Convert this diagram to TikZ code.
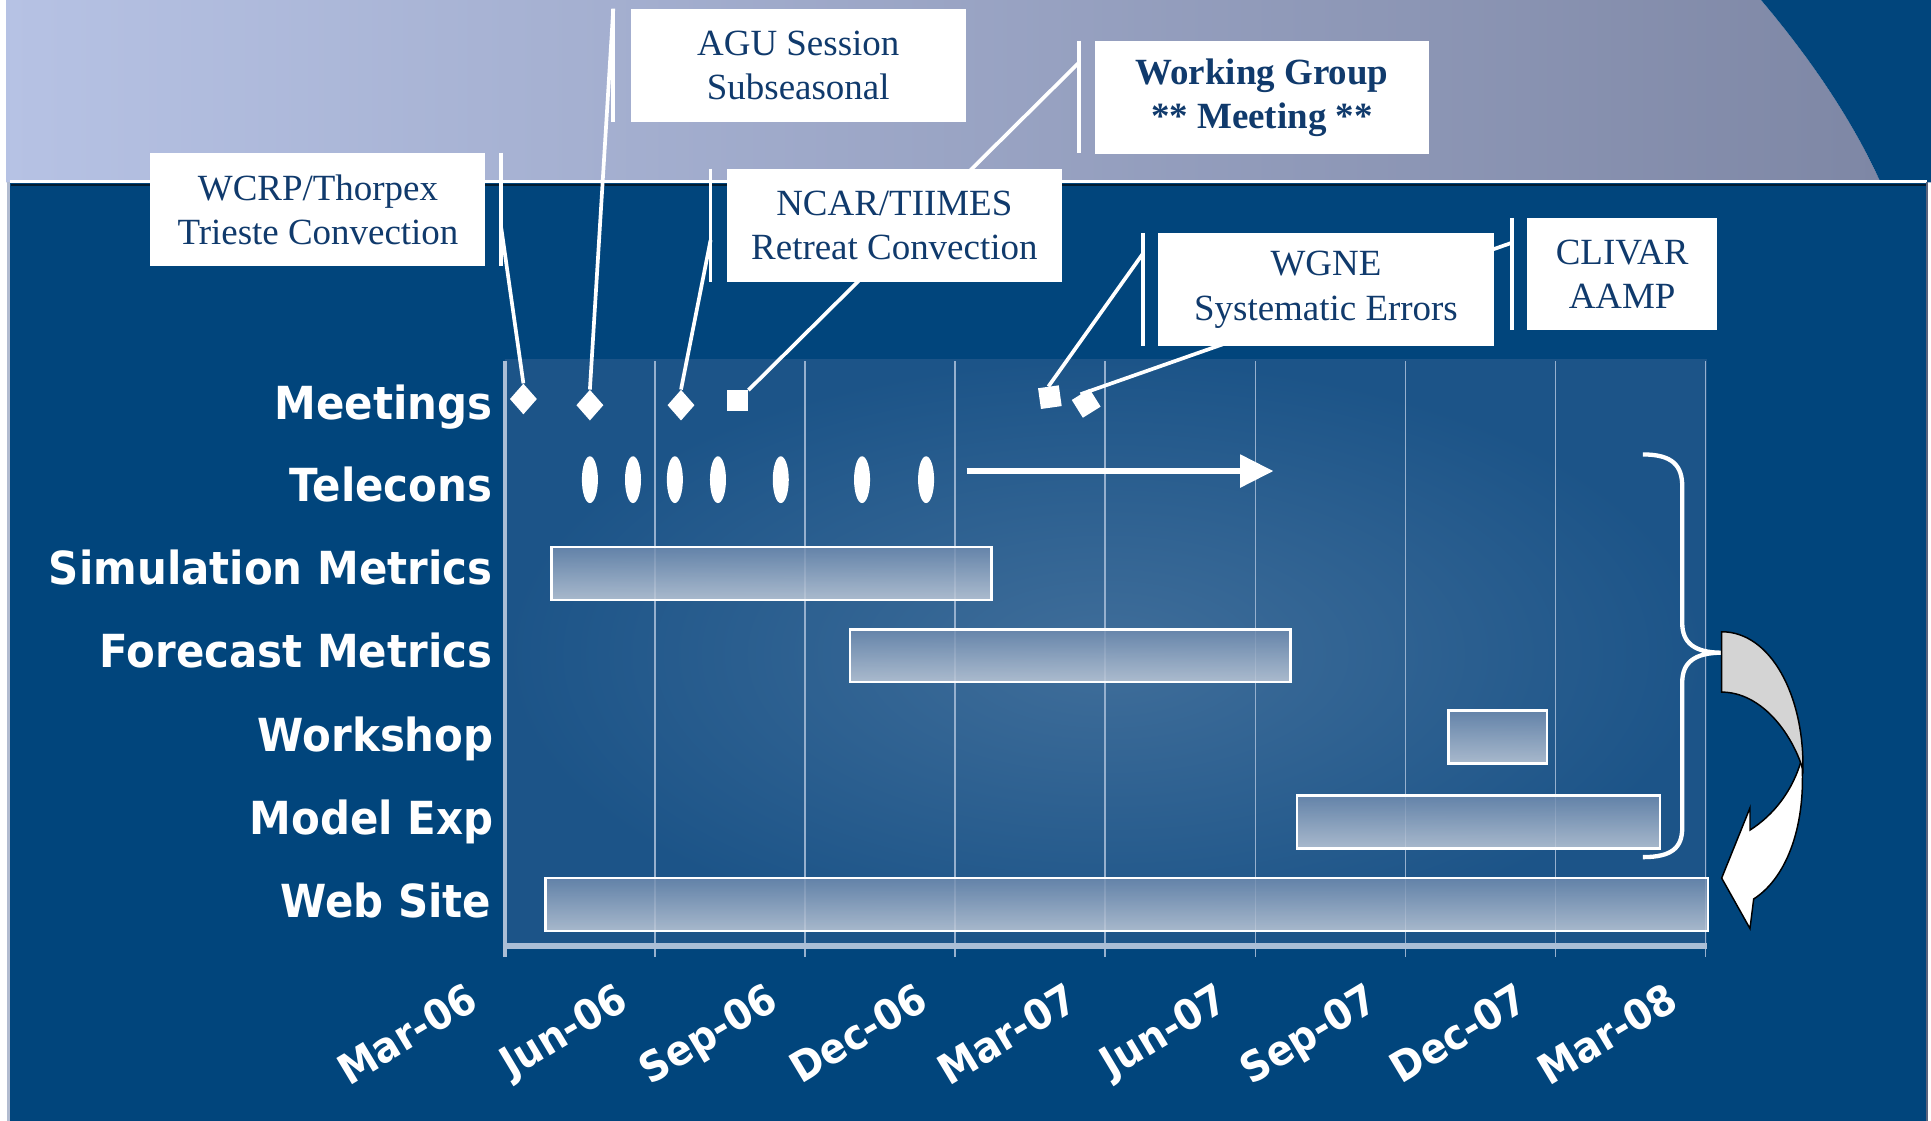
\documentclass[tikz,border=0pt]{standalone}
\usepackage{fontspec}
\setmainfont{Liberation Serif}
\newfontfamily\lblfont[FakeStretch=0.92]{DejaVu Sans Bold}
\usetikzlibrary{shapes.geometric,arrows.meta}
\definecolor{panel}{RGB}{1,69,124}
\definecolor{navy}{RGB}{16,58,108}
\definecolor{chartA}{RGB}{64,110,154}
\definecolor{chartB}{RGB}{28,84,136}
\definecolor{gridc}{RGB}{150,176,206}
\definecolor{axisc}{RGB}{170,190,214}
\definecolor{bandL}{RGB}{182,194,228}
\definecolor{bandR}{RGB}{126,135,165}
\definecolor{bartop}{RGB}{110,138,174}
\definecolor{barbot}{RGB}{192,202,216}
\definecolor{backarrow}{RGB}{212,212,212}
\begin{document}
\begin{tikzpicture}[x=1pt,y=-1pt,
  callbox/.style={fill=white, text=navy, minimum width=272pt, minimum height=92pt, inner sep=0pt, align=center, font=\fontsize{30}{36}\selectfont, anchor=north west},
  accent/.style={white, line width=3pt},
  leader/.style={white, line width=3pt},
  ganttbar/.style={draw=white, line width=2pt, top color=bartop, bottom color=barbot, fill opacity=0.85, inner sep=0pt, anchor=north west, minimum height=43pt},
  rowlbl/.style={text=white, font=\lblfont\fontsize{37}{40}\selectfont, anchor=base east, inner sep=0pt},
  axlbl/.style={text=white, font=\lblfont\fontsize{34}{36}\selectfont, rotate=31, anchor=north east, inner sep=0pt},
  dmd/.style={diamond, fill=white, minimum width=22pt, minimum height=25pt, inner sep=0pt},
  sqm/.style={rectangle, fill=white, minimum size=17pt, inner sep=0pt},
  tel/.style={ellipse, fill=white, minimum width=13pt, minimum height=38pt, inner sep=0pt}
]
\useasboundingbox (0,0) rectangle (1568,910);
\fill[white] (0,0) rectangle (1568,910);
% top band
\shade[left color=bandL, right color=bandR] (5,0) -- (1430,0) .. controls (1468,45) and (1503,95) .. (1527,148) -- (5,148) -- cycle;
\fill[panel] (1430,0) .. controls (1468,45) and (1503,95) .. (1527,148) -- (1568,148) -- (1568,0) -- cycle;
% panel
\fill[panel] (8,148) rectangle (1565,910);
\draw[white, line width=2.5pt] (8,147.5) -- (1565,147.5);
\draw[black!60!panel, line width=1.5pt] (9,150) -- (1565,150);
\draw[color={rgb,255:red,178;green,188;blue,208}, line width=2pt] (7,148) -- (7,910);
\draw[color={rgb,255:red,90;green,100;blue,125}, line width=1.5pt] (1565,148) -- (1565,910);
% chart area
\shade[inner color=chartA, outer color=chartB] (410,292) rectangle (1386,770);
\foreach \i in {1,...,8} {
  \pgfmathsetmacro\tx{410+121.875*\i}
  \draw[gridc, line width=1.3pt] (\tx,293) -- (\tx,777);
}
\draw[axisc, line width=3pt] (410,293) -- (410,777);
\draw[axisc, line width=5pt] (410,768) -- (1386,768);
% axis labels
\foreach \lab [count=\i from 0] in {Mar-06,Jun-06,Sep-06,Dec-06,Mar-07,Jun-07,Sep-07,Dec-07,Mar-08} {
  \pgfmathsetmacro\tx{410+121.875*\i-33}
  \node[axlbl] (ax\i) at (\tx,796) {\lab};
}
% bars
\node[ganttbar, minimum width=357pt] (bSim) at (447,443) {};
\node[ganttbar, minimum width=358pt] (bFor) at (689,510) {};
\node[ganttbar, minimum width=80pt] (bWork) at (1175,576) {};
\node[ganttbar, minimum width=295pt] (bModel) at (1052,645) {};
\node[ganttbar, minimum width=944pt] (bWeb) at (442,712) {};
% row labels
\node[rowlbl] (lMeet) at (400,341) {Meetings};
\node[rowlbl] (lTel) at (400,407) {Telecons};
\node[rowlbl] (lSim) at (400,475) {Simulation Metrics};
\node[rowlbl] (lFor) at (400,542) {Forecast Metrics};
\node[rowlbl] (lWork) at (401,610) {Workshop};
\node[rowlbl] (lModel) at (401,678) {Model Exp};
\node[rowlbl] (lWeb) at (399,745) {Web Site};
% meeting markers
\node[dmd] (m1) at (425,324) {};
\node[dmd] (m2) at (479,329) {};
\node[dmd] (m3) at (553,329) {};
\node[sqm] (m4) at (599,325.5) {};
\node[sqm, rotate=8] (m5) at (852.5,322.5) {};
\node[sqm, rotate=32] (m6) at (882,327.5) {};
% telecons
\foreach \tx [count=\k] in {479,514,548,583,634,700,752} {
  \node[tel] (t\k) at (\tx,389.5) {};
}
\coordinate (ta) at (785,382.5);
\coordinate (tb) at (1034,382.5);
\draw[white, line width=4.5pt, -{Triangle[length=27pt,width=26pt]}] (ta) -- (tb);
% leader start points
\coordinate (sW) at (407,185);
\coordinate (sA) at (498,7);
\coordinate (sN) at (577,195);
\coordinate (sG) at (876,51);
\coordinate (sE) at (928,206);
\coordinate (sC) at (1228,197);
\draw[leader] (sW) -- (m1.north);
\draw[leader] (sA) -- (m2.north);
\draw[leader] (sN) -- (m3.north);
\draw[leader] (sG) -- (m4.north east);
\draw[leader] (sE) -- (m5.north);
\draw[leader] (sC) -- (m6.north);
% accent bars
\draw[accent] (407,124) -- (407,216);
\draw[accent] (498,7) -- (498,99);
\draw[accent] (577,137) -- (577,229);
\draw[accent] (876,33) -- (876,124);
\draw[accent] (928,189) -- (928,281);
\draw[accent] (1228,177) -- (1228,268);
% callout boxes
\node[callbox] (cW) at (122,124) {WCRP/Thorpex\\Trieste Convection};
\node[callbox] (cA) at (512,7) {AGU Session\\Subseasonal};
\node[callbox] (cN) at (590,137) {NCAR/TIIMES\\Retreat Convection};
\node[callbox, minimum width=271pt, font=\bfseries\fontsize{30}{36}\selectfont] (cG) at (889,33) {Working Group\\** Meeting **};
\node[callbox, minimum width=273pt] (cE) at (940,189) {WGNE\\Systematic Errors};
\node[callbox, minimum width=154pt, minimum height=91pt] (cC) at (1240,177) {CLIVAR\\AAMP};
% brace
\coordinate (brT) at (1334,369);
\coordinate (brTip) at (1398,530);
\coordinate (brB) at (1334,696);
\draw[white, line width=3.5pt] (brT) .. controls (1358,369) and (1366,378) .. (1366,395) -- (1366,506)
  .. controls (1366,522) and (1376,530) .. (brTip)
  .. controls (1376,530) and (1366,538) .. (1366,554) -- (1366,672)
  .. controls (1366,688) and (1358,696) .. (brB);
% curved arrow
\filldraw[fill=white, draw=black, line width=1.2pt] (1463,616) .. controls (1467,668) and (1452,712) .. (1424,730) -- (1421,754) -- (1398,713) -- (1421,656) -- (1421,674) .. controls (1440,662) and (1456,642) .. (1463,616) -- cycle;
\filldraw[fill=backarrow, draw=black, line width=1.2pt] (1398,513) .. controls (1438,513) and (1465,565) .. (1464,625) .. controls (1455,595) and (1430,562) .. (1398,562) -- cycle;
\end{tikzpicture}
\end{document}
